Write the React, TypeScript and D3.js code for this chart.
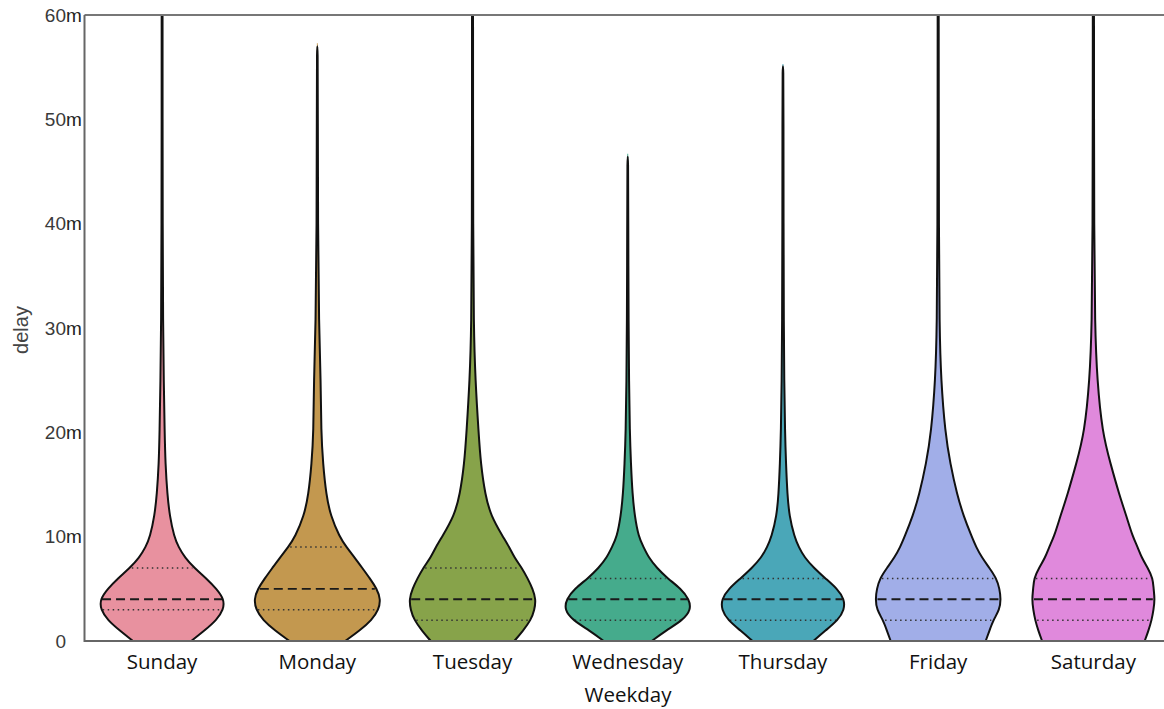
import React from "react";
import * as d3 from "d3";

// Delay distribution per weekday: relative density (0–100) sampled at delay levels (minutes)
const weekdays = ["Sunday", "Monday", "Tuesday", "Wednesday", "Thursday", "Friday", "Saturday"];
const delayLevels = [0, 1, 2, 3, 4, 5, 6, 7, 8, 9, 10, 12, 14, 17, 20, 25, 30, 40, 50, 60];

const sundayDensity = [46, 67, 86, 97, 98, 86, 70, 51, 36, 26, 19, 12, 8.3, 5.2, 4, 2.6, 1.5, 0.9, 0.7, 0.7];
const mondayDensity = [44, 67, 86, 97, 100, 94, 83, 71, 59, 46, 35, 21, 14, 9, 6, 5.5, 2.6, 1.0, 0.8, 0.7];
const tuesdayDensity = [66, 80, 92, 98, 100, 95, 87, 78, 66, 58, 48, 29, 20, 13, 9.5, 4.5, 1.8, 1.0, 0.8, 0.8];
const wednesdayDensity = [38, 60, 87, 100, 97, 84, 63, 46, 33, 25, 17, 11, 7.5, 5, 3.2, 2, 1.3, 0.8, 0.7, 0.6];
const thursdayDensity = [48, 67, 87, 97, 97, 86, 67, 49, 34, 25, 18, 10, 7, 4.8, 3.2, 2, 1.3, 0.9, 0.8, 0.7];
const fridayDensity = [75, 81, 87, 97, 99, 97, 92, 81, 69, 60, 53, 40, 30, 19, 11, 4.5, 2.0, 1.1, 0.9, 0.8];
const saturdayDensity = [81, 87, 92, 95, 97, 95, 94, 86, 76, 70, 62, 52, 41, 27, 14, 6, 2.4, 1.2, 1.0, 0.9];

const densities = [
  sundayDensity,
  mondayDensity,
  tuesdayDensity,
  wednesdayDensity,
  thursdayDensity,
  fridayDensity,
  saturdayDensity,
];

// Longest observed delay (minutes) per weekday; some run past the 60m limit of the axis
const maxDelay = [63, 57.3, 63, 46.7, 55.3, 63, 63];

// Quartiles of delay (minutes)
const lowerQuartile = [3, 3, 2, 2, 2, 2, 2];
const medianDelay = [4, 5, 4, 4, 4, 4, 4];
const upperQuartile = [7, 9, 7, 6, 6, 6, 6];

const fillColors = ["#e8919f", "#c3984f", "#87a34a", "#45ab8c", "#4aa7b8", "#a1aee8", "#e089dc"];

const yTicks = [0, 10, 20, 30, 40, 50, 60];

const WIDTH = 1164;
const HEIGHT = 709;
const PLOT_LEFT = 84.5;
const PLOT_TOP = 15;
const PLOT_BOTTOM = 641;
const PLOT_RIGHT = 1171;

export default function App() {
  const x = d3.scaleBand<string>().domain(weekdays).range([PLOT_LEFT, PLOT_RIGHT]).paddingInner(0).paddingOuter(0);
  const y = d3.scaleLinear().domain([0, 60]).range([PLOT_BOTTOM, PLOT_TOP]);
  const halfWidth = d3.scaleLinear().domain([0, 100]).range([0, x.bandwidth() * 0.408]);

  const violins = weekdays.map((day, i) => {
    const dens = densities[i];
    const top = maxDelay[i];
    const interp = d3.scaleLinear<number>().domain(delayLevels).range(dens).clamp(true);
    const pts: [number, number][] = [];
    delayLevels.forEach((lvl, k) => {
      if (lvl < top) pts.push([lvl, dens[k]]);
    });
    pts.push([top, interp(top)]);

    const cx = (x(day) as number) + x.bandwidth() / 2;

    const area = d3
      .area<[number, number]>()
      .x0((p) => cx - halfWidth(p[1]))
      .x1((p) => cx + halfWidth(p[1]))
      .y((p) => y(p[0]))
      .curve(d3.curveBasis);

    const outlinePts: [number, number][] = [
      ...pts.map((p) => [cx - halfWidth(p[1]), y(p[0])] as [number, number]),
      ...pts
        .slice()
        .reverse()
        .map((p) => [cx + halfWidth(p[1]), y(p[0])] as [number, number]),
    ];
    const outline = d3.line().curve(d3.curveBasis)(outlinePts);

    const quartileSeg = (q: number) => {
      const h = Math.max(0, halfWidth(interp(q)) - 2);
      return { x1: cx - h, x2: cx + h, y: y(q) };
    };

    return {
      day,
      cx,
      fill: fillColors[i],
      areaPath: area(pts) as string,
      outline: outline as string,
      q1: quartileSeg(lowerQuartile[i]),
      med: quartileSeg(medianDelay[i]),
      q3: quartileSeg(upperQuartile[i]),
    };
  });

  return (
    <svg
      width={WIDTH}
      height={HEIGHT}
      style={{ position: "absolute", left: 0, top: 0, background: "#fff" }}
    >
      <defs>
        <clipPath id="plot-area">
          <rect x={PLOT_LEFT} y={PLOT_TOP} width={WIDTH - PLOT_LEFT} height={PLOT_BOTTOM - PLOT_TOP} />
        </clipPath>
      </defs>

      <g clipPath="url(#plot-area)">
        {violins.map((v) => (
          <g key={v.day}>
            <path d={v.areaPath} fill={v.fill} stroke="none" />
            <line
              x1={v.q1.x1}
              x2={v.q1.x2}
              y1={v.q1.y}
              y2={v.q1.y}
              stroke="#333"
              strokeWidth={1.5}
              strokeDasharray="1.5,3.5"
            />
            <line
              x1={v.q3.x1}
              x2={v.q3.x2}
              y1={v.q3.y}
              y2={v.q3.y}
              stroke="#333"
              strokeWidth={1.5}
              strokeDasharray="1.5,3.5"
            />
            <line
              x1={v.med.x1}
              x2={v.med.x2}
              y1={v.med.y}
              y2={v.med.y}
              stroke="#1a1a1a"
              strokeWidth={1.8}
              strokeDasharray="9,5"
            />
            <path d={v.outline} fill="none" stroke="#111" strokeWidth={2} strokeLinejoin="round" />
          </g>
        ))}
      </g>

      {/* frame */}
      <line x1={PLOT_LEFT} x2={WIDTH} y1={PLOT_TOP} y2={PLOT_TOP} stroke="#777" strokeWidth={2} />
      <line x1={PLOT_LEFT} x2={PLOT_LEFT} y1={PLOT_TOP} y2={PLOT_BOTTOM + 1} stroke="#666" strokeWidth={2} />
      <line x1={PLOT_LEFT} x2={WIDTH} y1={PLOT_BOTTOM} y2={PLOT_BOTTOM} stroke="#666" strokeWidth={2} />

      {/* y tick labels */}
      <g fontFamily="'Liberation Sans', Arial, sans-serif" fontSize={19} fill="#3a3a3a">
        {yTicks.map((t) => (
          <g key={t}>
            <text x={66} y={y(t)} textAnchor="end" dominantBaseline="central">
              {t}
            </text>
            {t !== 0 && (
              <text x={66} y={y(t)} textAnchor="start" dominantBaseline="central" fill="#222">
                m
              </text>
            )}
          </g>
        ))}
      </g>

      {/* y axis title */}
      <text
        transform={`translate(28, 330) rotate(-90)`}
        textAnchor="middle"
        fontFamily="'Liberation Sans', Arial, sans-serif"
        fontSize={20}
        fill="#444"
      >
        delay
      </text>

      {/* x tick labels */}
      <g fontFamily="'Open Sans', sans-serif" fontSize={20.5} fill="#111">
        {violins.map((v) => (
          <text key={v.day} x={v.cx} y={669} textAnchor="middle">
            {v.day}
          </text>
        ))}
      </g>

      {/* x axis title */}
      <text
        x={628}
        y={702}
        textAnchor="middle"
        fontFamily="'Open Sans', sans-serif"
        fontSize={20.5}
        fill="#111"
      >
        Weekday
      </text>
    </svg>
  );
}
